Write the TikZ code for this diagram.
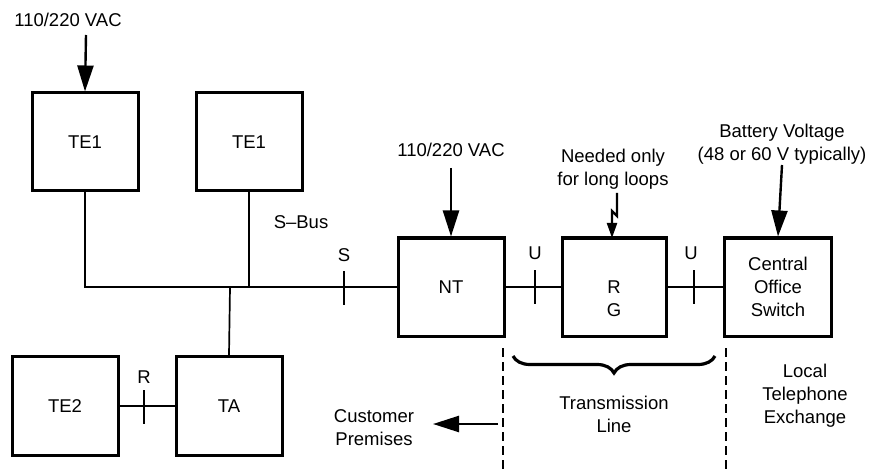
\documentclass[tikz,border=0pt]{standalone}
\usepackage{fontspec}
\setmainfont{Liberation Sans}
\usetikzlibrary{arrows.meta,decorations.pathreplacing}
\begin{document}
\begin{tikzpicture}[x=1pt,y=-1pt,
  every node/.style={font=\fontsize{18.5}{23}\selectfont, inner sep=0pt},
  blk/.style={draw, line width=3pt, minimum width=106pt, minimum height=98pt, align=center},
  conn/.style={line width=1.7pt},
  tick/.style={line width=1.7pt},
  bigarrow/.style={line width=2.4pt, -{Triangle[length=26pt,width=16pt]}},
  smallarrow/.style={line width=2.2pt, -{Triangle[length=15pt,width=10pt]}},
  txt/.style={align=center},
  divider/.style={line width=2pt, dash pattern=on 9pt off 5pt}]
\useasboundingbox (0,0) rectangle (869,470);

% boxes
\node[blk] (TE1a) at (85,142) {TE1};
\node[blk] (TE1b) at (249,142) {TE1};
\node[blk, minimum height=99pt] (TE2) at (65,406) {TE2};
\node[blk, minimum height=99pt] (TA) at (229,406) {TA};
\node[blk] (NT) at (451,287) {NT};
\node[blk, minimum width=104pt] (RG) at (614,287) {};
\node[txt] (rgtext) at (614,299) {R\\G};
\node[blk, minimum width=107pt] (CO) at (778,287) {Central\\Office\\Switch};

% S-bus
\coordinate (bus) at (230,287);
\draw[conn] (TE1a.south) |- (NT.west);
\draw[conn] (TE1b.south) -- (TE1b.south |- bus);
\draw[conn] (TA.north) -- (bus);
\draw[conn] (TE2.east) -- (TA.west);
\draw[conn] (NT.east) -- (RG.west);
\draw[conn] (RG.east) -- (CO.west);

% ticks
\coordinate (sT) at (344,271); \coordinate (sB) at (344,305);
\draw[tick] (sT) -- (sB);
\coordinate (u1T) at (535,270); \coordinate (u1B) at (535,304);
\draw[tick] (u1T) -- (u1B);
\coordinate (u2T) at (694,270); \coordinate (u2B) at (694,304);
\draw[tick] (u2T) -- (u2B);
\coordinate (rT) at (144,390); \coordinate (rB) at (144,424);
\draw[tick] (rT) -- (rB);

% labels
\node (Slab) at (344,255) {S};
\node (Sbus) at (301,222) {S--Bus};
\node (U1) at (535,253) {U};
\node (U2) at (691,253) {U};
\node (Rlab) at (144,377) {R};

% power arrows
\node (vac1) at (68,20) {110/220 VAC};
\draw[bigarrow] (86,35) -- (TE1a.north);
\node (vac2) at (451,150) {110/220 VAC};
\draw[bigarrow] (451,168) -- (NT.north);
\node[txt] (bat) at (782,144) {Battery Voltage\\(48 or 60 V typically)};
\draw[bigarrow] (782,165) -- (CO.north);
\node[txt] (need) at (613,169) {Needed only\\for long loops};
\draw[smallarrow] (617,193) -- (617,216) -- (612,211) -- (612,238);

% dividers
\coordinate (d1T) at (503,348); \coordinate (d1B) at (503,470);
\coordinate (d2T) at (726,348); \coordinate (d2B) at (726,470);
\draw[divider] (d1T) -- (d1B);
\draw[divider] (d2T) -- (d2B);

% brace
\coordinate (brL) at (513,356); \coordinate (brR) at (715,356);
\draw[line width=3.2pt, decorate, decoration={brace, mirror, amplitude=17pt}] (brL) -- (brR);
\node[txt] (trans) at (614,414) {Transmission\\Line};
\node[txt] (local) at (805,396) {Local\\Telephone\\Exchange};

% customer premises
\node[txt] (cust) at (374,428) {Customer\\Premises};
\coordinate (custStart) at (498,424);
\draw[bigarrow] (custStart) -- (433,424);
\end{tikzpicture}
\end{document}
